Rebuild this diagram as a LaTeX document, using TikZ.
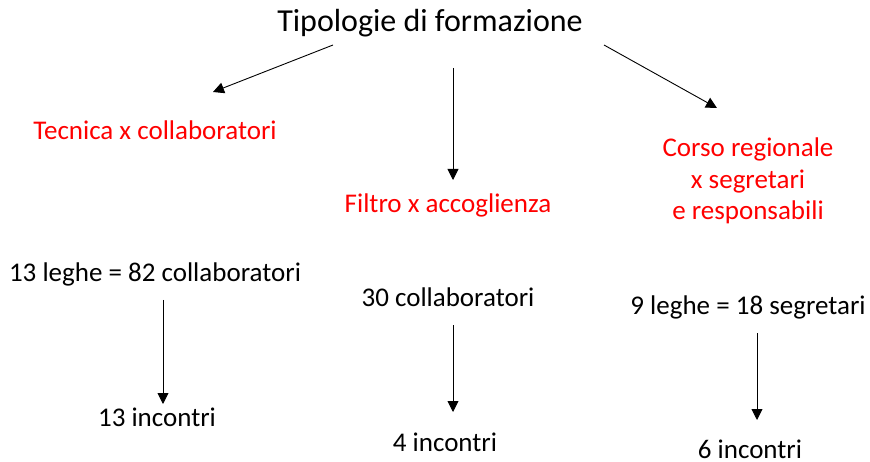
\documentclass[tikz,border=0pt]{standalone}
\usepackage{fontspec}
\setmainfont{Carlito}
\usetikzlibrary{arrows.meta}

\begin{document}
\begin{tikzpicture}[x=1pt,y=-1pt,lbl/.style={inner sep=0pt,anchor=base,align=center,font=\fontsize{27}{31.5}\selectfont},kind/.style={lbl,text=red},>={Triangle[length=11pt,width=11pt]},link/.style={->,line width=0.9pt}]
\useasboundingbox (0,0) rectangle (870,462);
\node[lbl,font=\fontsize{32}{36}\selectfont] (title) at (430,32) {Tipologie di formazione};
\node[kind] (tec) at (155,140) {Tecnica x collaboratori};
\node[kind] (fil) at (448,213) {Filtro x accoglienza};
\node[kind] (cor) at (748,220) {Corso regionale\\x segretari\\e responsabili};
\node[lbl] (tecn) at (155,282) {13 leghe = 82 collaboratori};
\node[lbl] (filn) at (448,307) {30 collaboratori};
\node[lbl] (corn) at (748,315) {9 leghe = 18 segretari};
\node[lbl] (teci) at (157,426) {13 incontri};
\node[lbl] (fili) at (445,451) {4 incontri};
\node[lbl,text depth=0pt] (cori) at (750,458) {6 incontri};
% arrow ends
\coordinate (t1) at (333,45); \coordinate (t2) at (453,68); \coordinate (t3) at (604,45);
\coordinate (k1) at (213,92); \coordinate (k2) at (453,180); \coordinate (k3) at (717,108);
\coordinate (n1) at (163,300); \coordinate (n2) at (453,325); \coordinate (n3) at (757,333);
\coordinate (i1) at (163,404); \coordinate (i2) at (453,412); \coordinate (i3) at (757,420);
\draw[link] (t1)--(k1);\draw[link] (t2)--(k2);\draw[link] (t3)--(k3);
\draw[link] (n1)--(i1);\draw[link] (n2)--(i2);\draw[link] (n3)--(i3);
\end{tikzpicture}
\end{document}
